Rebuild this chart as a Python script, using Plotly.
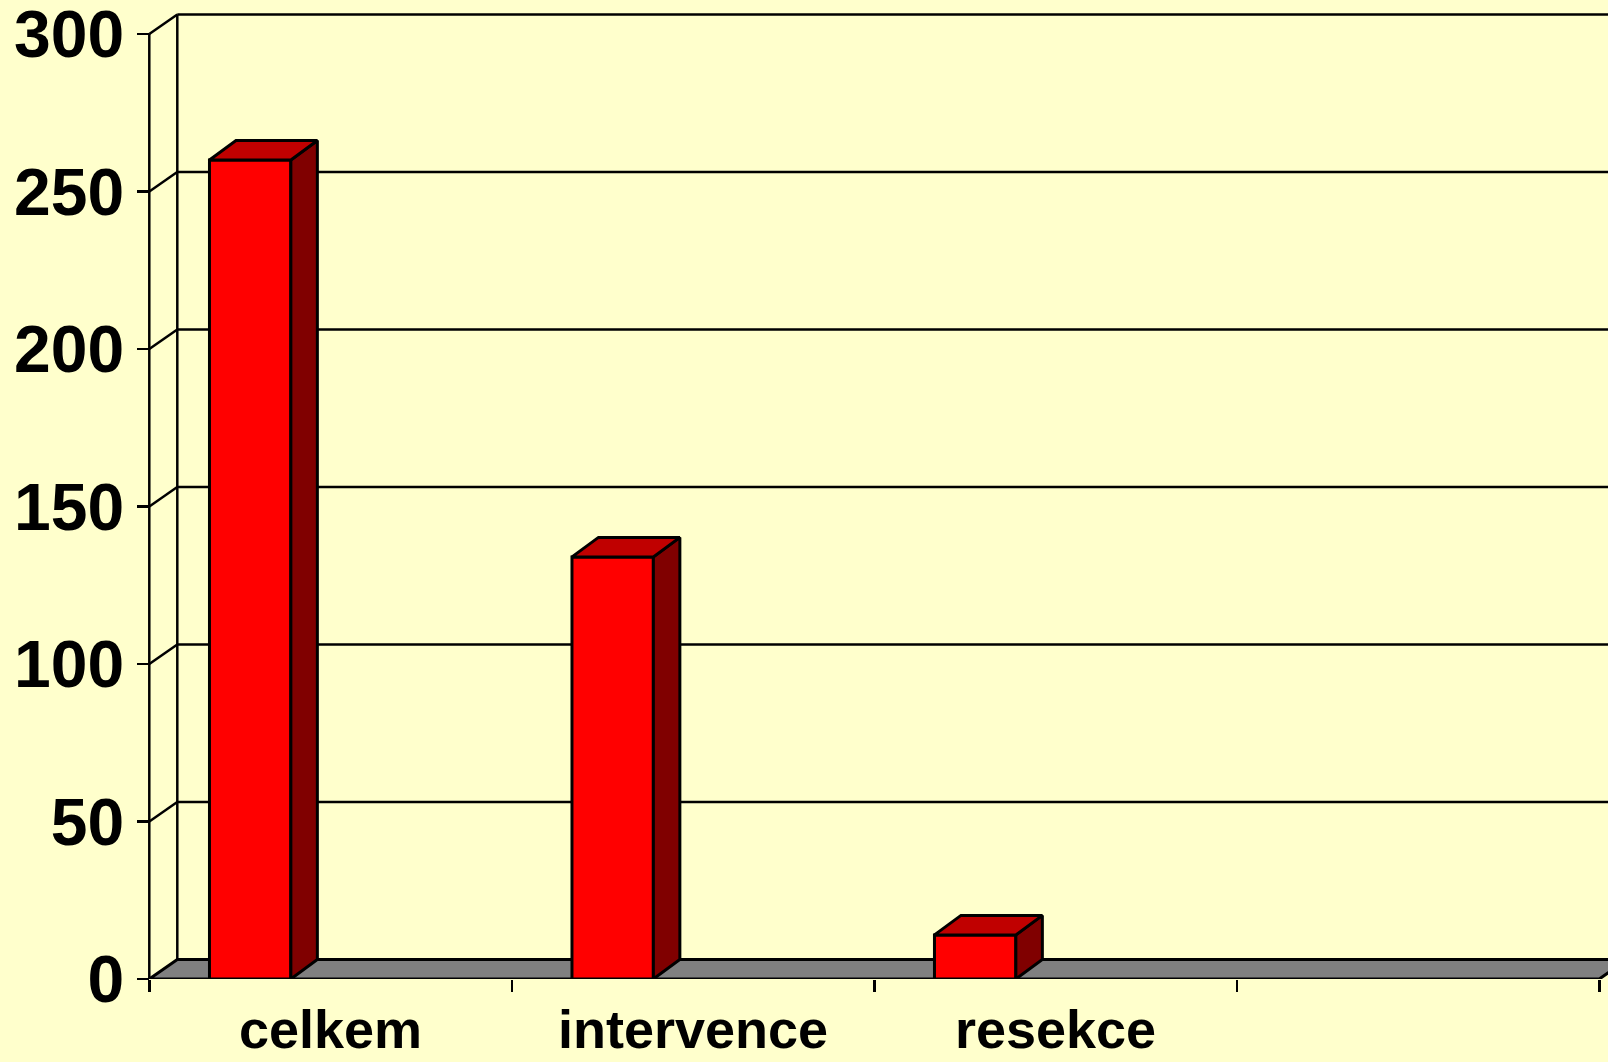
import plotly.graph_objects as go

# ---- data ----
categories = ["celkem", "intervence", "resekce", ""]
values = [260, 134, 14]
y_tick_vals = [0, 50, 100, 150, 200, 250, 300]
y_max = 300

# ---- geometry / style (pixels) ----
W, H = 1608, 1062
PX_X = 362.5          # pixels per category
PX_Y = 3.15           # pixels per value unit
X0_PX = 149.3         # pixel of x = 0
Y0_PX = 979           # pixel of y = 0
PLOT_LEFT = 130
MARGIN_T = 10
MARGIN_B = H - Y0_PX
WALL_DX_PX, WALL_DY_PX = 28, 19.5
BAR_DX_PX, BAR_DY_PX = 26.5, 19.5
BAR_OFF = 0.166
BAR_W = 0.2245

BG = "#FFFFCC"
FRONT = "#FF0000"
TOP = "#C00000"
SIDE = "#800000"
FLOOR = "#808080"

wdx, wdy = WALL_DX_PX / PX_X, WALL_DY_PX / PX_Y
bdx, bdy = BAR_DX_PX / PX_X, BAR_DY_PX / PX_Y

x_lo = -(X0_PX - PLOT_LEFT) / PX_X
x_hi = (W - X0_PX) / PX_X
y_hi = (Y0_PX - MARGIN_T) / PX_Y
n = len(categories)

fig = go.Figure()
shapes = []
line_k = dict(color="black", width=2.5)

# back wall gridlines + diagonals on side wall
for v in y_tick_vals:
    if v > 0:
        shapes.append(dict(type="line", xref="x", yref="y", x0=0, y0=v, x1=wdx, y1=v + wdy,
                           line=line_k, layer="below"))
        shapes.append(dict(type="line", xref="x", yref="y", x0=wdx, y0=v + wdy, x1=x_hi + 1, y1=v + wdy,
                           line=line_k, layer="below"))
# back-left vertical edge and front axis line
shapes.append(dict(type="line", xref="x", yref="y", x0=wdx, y0=wdy, x1=wdx, y1=y_max + wdy,
                   line=line_k, layer="below"))
shapes.append(dict(type="line", xref="x", yref="y", x0=0, y0=0, x1=0, y1=y_max,
                   line=line_k, layer="below"))
# floor
shapes.append(dict(type="path", xref="x", yref="y",
                   path=f"M 0 0 L {n} 0 L {n + wdx} {wdy} L {wdx} {wdy} Z",
                   fillcolor=FLOOR, line=dict(color="black", width=3), layer="below"))

xs = list(range(len(values)))

# front faces
fig.add_trace(go.Bar(x=xs, y=values, offset=BAR_OFF, width=BAR_W,
                     marker=dict(color=FRONT, line=dict(color="black", width=3)),
                     hoverinfo="skip", showlegend=False))

# top and side faces
tx, ty, sx, sy = [], [], [], []
for i, v in zip(xs, values):
    a = i + BAR_OFF
    b = a + BAR_W
    tx += [a, b, b + bdx, a + bdx, a, None]
    ty += [v, v, v + bdy, v + bdy, v, None]
    sx += [b, b + bdx, b + bdx, b, b, None]
    sy += [0, bdy, v + bdy, v, 0, None]

fig.add_trace(go.Scatter(x=sx, y=sy, mode="lines", fill="toself", fillcolor=SIDE,
                         line=dict(color="black", width=3), hoverinfo="skip", showlegend=False))
fig.add_trace(go.Scatter(x=tx, y=ty, mode="lines", fill="toself", fillcolor=TOP,
                         line=dict(color="black", width=3), hoverinfo="skip", showlegend=False))

font_family = "Liberation Sans, Arial, sans-serif"
fig.update_layout(
    width=W, height=H,
    paper_bgcolor=BG, plot_bgcolor=BG,
    margin=dict(l=PLOT_LEFT, r=0, t=MARGIN_T, b=MARGIN_B, pad=0, autoexpand=False),
    shapes=shapes,
    showlegend=False,
    bargap=0,
    xaxis=dict(range=[x_lo, x_hi], showgrid=False, zeroline=False, showline=False,
               automargin=False,
               tickmode="array", tickvals=[i + 0.5 for i in range(n)], ticktext=categories,
               ticks="", ticklen=0, ticklabelstandoff=14,
               tickfont=dict(family=font_family, size=54, color="black", weight="bold"),
               minor=dict(tickmode="array", tickvals=list(range(n + 1)), ticks="outside",
                          ticklen=12, tickwidth=2.5, tickcolor="black", showgrid=False),
               fixedrange=True),
    yaxis=dict(range=[0, y_hi], showgrid=False, zeroline=False, showline=False,
               automargin=False,
               anchor="free", position=(X0_PX - PLOT_LEFT) / (W - PLOT_LEFT),
               tickmode="array", tickvals=y_tick_vals,
               ticks="outside", ticklen=12, tickwidth=2.5, tickcolor="black",
               ticklabelstandoff=0, ticklabeloverflow="allow",
               tickfont=dict(family=font_family, size=66, color="black", weight="bold"),
               fixedrange=True),
)

fig.write_html(
    "out.html",
    config={"displayModeBar": False, "staticPlot": True},
    post_script="document.body.style.margin='0';document.body.style.padding='0';"
                "document.body.style.background='#FFFFCC';document.body.style.overflow='hidden';",
)
